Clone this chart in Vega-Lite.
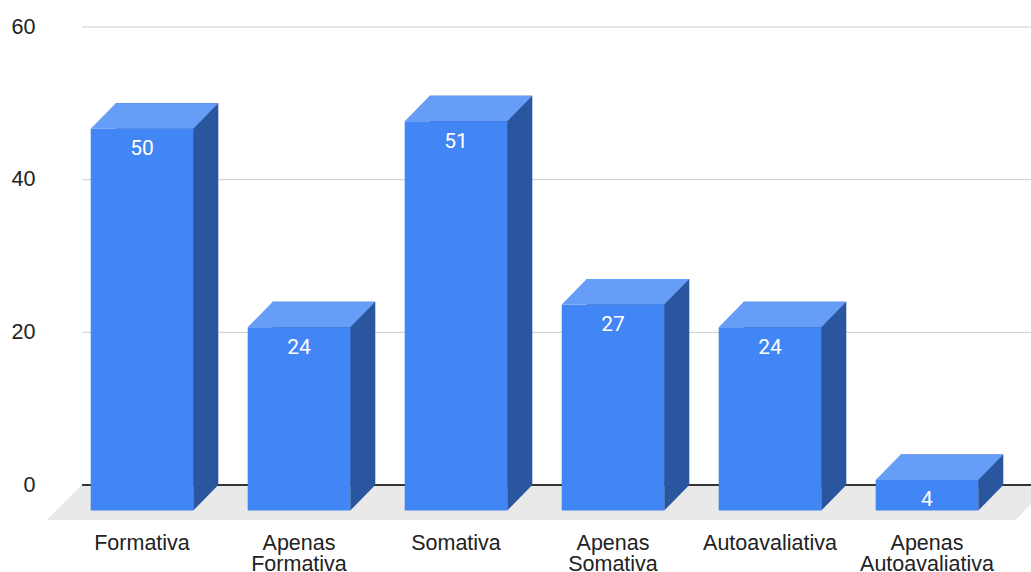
{
  "$schema": "https://vega.github.io/schema/vega-lite/v6.json",
  "autosize": {"type": "none"},
  "padding": {"left": 82, "top": 27, "right": 0, "bottom": 87},
  "width": 949,
  "height": 458,
  "background": "white",
  "config": {
    "view": {"stroke": null},
    "font": "Liberation Sans"
  },
  "data": {
    "values": [
      {"categoria": "Formativa", "valor": 50},
      {"categoria": "Apenas Formativa", "valor": 24},
      {"categoria": "Somativa", "valor": 51},
      {"categoria": "Apenas Somativa", "valor": 27},
      {"categoria": "Autoavaliativa", "valor": 24},
      {"categoria": "Apenas Autoavaliativa", "valor": 4}
    ]
  },
  "encoding": {
    "x": {
      "field": "categoria",
      "type": "nominal",
      "sort": null,
      "scale": {"range": [-6, 936], "paddingInner": 0, "paddingOuter": 0},
      "axis": {
        "title": null,
        "domain": false,
        "ticks": false,
        "tickSize": 0,
        "grid": false,
        "labelAngle": 0,
        "labelPadding": 47,
        "labelBaseline": "top",
        "labelFontSize": 21.5,
        "labelLineHeight": 21,
        "labelColor": "#222222",
        "labelFont": "Liberation Sans",
        "labelOffset": -12.5,
        "labelExpr": "indexof(datum.label, ' ') > 0 ? split(datum.label, ' ') : datum.label"
      }
    }
  },
  "layer": [
    {
      "mark": {
        "type": "point",
        "filled": true,
        "opacity": 1,
        "strokeWidth": 0,
        "color": "#e9e9e9",
        "shape": "M-0.930,0L0.966,0L0.899,0.0686L-0.999,0.0686Z",
        "size": 1040400
      },
      "encoding": {
        "x": null,
        "y": {
          "datum": 0,
          "type": "quantitative",
          "scale": {"domain": [0, 60]},
          "axis": {
            "title": null,
            "domain": false,
            "ticks": false,
            "tickSize": 0,
            "grid": false,
            "values": [0, 20, 40, 60],
            "labelPadding": 47,
            "labelFontSize": 21.5,
            "labelColor": "#222222",
            "labelFont": "Liberation Sans"
          }
        }
      }
    },
    {
      "data": {"values": [{"linha": 20}, {"linha": 40}, {"linha": 60}]},
      "mark": {"type": "rule", "color": "#cccccc", "strokeWidth": 1},
      "encoding": {"x": null, "y": {"field": "linha", "type": "quantitative"}}
    },
    {
      "mark": {"type": "rule", "color": "#333333", "strokeWidth": 2},
      "encoding": {"x": null, "y": {"datum": 0, "type": "quantitative"}}
    },
    {
      "mark": {"type": "bar", "color": "#2a56a0", "width": 102.6, "xOffset": 12.5},
      "encoding": {
        "y": {"field": "valor", "type": "quantitative", "stack": null},
        "y2": {"datum": 0}
      }
    },
    {
      "mark": {"type": "bar", "color": "#4285f4", "width": 102.6, "xOffset": -12.5, "yOffset": 25.5, "y2Offset": 25.5},
      "encoding": {
        "y": {"field": "valor", "type": "quantitative", "stack": null},
        "y2": {"datum": 0}
      }
    },
    {
      "mark": {
        "type": "point",
        "filled": true,
        "opacity": 1,
        "strokeWidth": 0,
        "color": "#669df6",
        "shape": "M-1,0.4L0.608,0.4L1,0L-0.608,0Z",
        "size": 16282
      },
      "encoding": {
        "y": {"field": "valor", "type": "quantitative"}
      }
    },
    {
      "mark": {
        "type": "point",
        "filled": true,
        "opacity": 1,
        "strokeWidth": 0,
        "color": "#2a56a0",
        "shape": "M0.608,0L1,0L0.608,0.4Z",
        "size": 16282
      },
      "encoding": {
        "y": {"datum": 0, "type": "quantitative"}
      }
    },
    {
      "mark": {
        "type": "text",
        "color": "white",
        "fontSize": 21,
        "font": "Roboto",
        "baseline": "middle",
        "align": "center",
        "xOffset": -12.5,
        "yOffset": 46
      },
      "encoding": {
        "y": {"field": "valor", "type": "quantitative"},
        "text": {"field": "valor", "type": "quantitative"}
      }
    }
  ]
}
